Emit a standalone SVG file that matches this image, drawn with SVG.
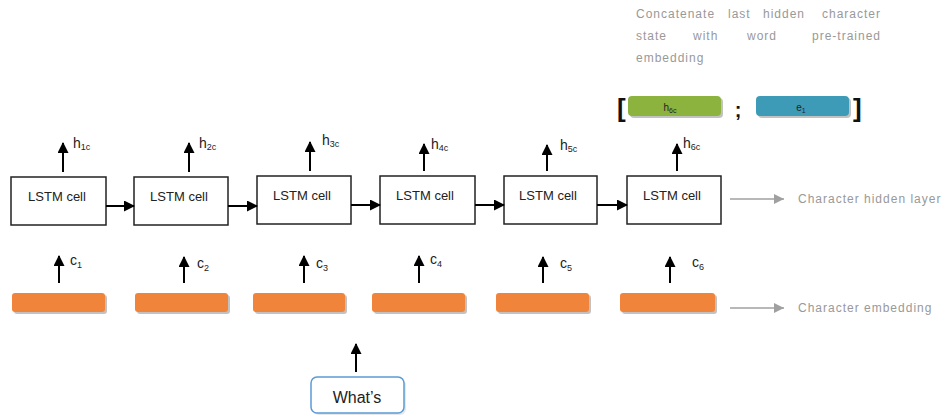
<svg xmlns="http://www.w3.org/2000/svg" width="950" height="417" viewBox="0 0 950 417">
<defs>
<marker id="ah" markerUnits="userSpaceOnUse" markerWidth="11" markerHeight="11" refX="10" refY="5.5" orient="auto"><path d="M0,0 L11,5.5 L0,11 z" fill="#000"/></marker>
<marker id="ag" markerUnits="userSpaceOnUse" markerWidth="10" markerHeight="10" refX="10" refY="5" orient="auto"><path d="M0,0 L10,5 L0,10 z" fill="#a0a0a0"/></marker>
<style>
.cell{fill:#fff;stroke:#222;stroke-width:1.5}
.ct{font-family:"Liberation Sans",Arial,sans-serif;font-size:13px;fill:#222;text-anchor:middle}
.lab{font-family:"Liberation Sans",Arial,sans-serif;font-size:14px;fill:#222}
.sub{font-size:9px}
.ar{stroke:#000;stroke-width:2;fill:none;marker-end:url(#ah)}
.ga{stroke:#a0a0a0;stroke-width:1.5;fill:none;marker-end:url(#ag)}
.gt{font-family:"Liberation Sans",Arial,sans-serif;font-size:12px;fill:#999;letter-spacing:1px}
.emb{fill:#f0843a}
.sh{fill:#9a9a9a;opacity:0.6}
</style>
</defs>
<rect width="950" height="417" fill="#fff"/>

<g id="note" class="gt">
<text x="636" y="18">Concatenate</text><text x="728" y="18">last</text><text x="763" y="18">hidden</text><text x="881" y="18" text-anchor="end">character</text>
<text x="636" y="40">state</text><text x="693" y="40">with</text><text x="747" y="40">word</text><text x="881" y="40" text-anchor="end">pre-trained</text>
<text x="636" y="62">embedding</text>
</g>

<g id="concat">
<text x="617" y="117" font-family="Liberation Sans,Arial,sans-serif" font-size="26" font-weight="bold" fill="#111">[</text>
<rect x="630" y="98" width="93" height="20" rx="4" class="sh"/>
<rect x="628" y="96" width="93" height="20" rx="4" fill="#8db33f"/>
<text x="670" y="111" font-family="Liberation Sans,Arial,sans-serif" font-size="10" fill="#222" text-anchor="middle">h<tspan font-size="7" dy="2">6c</tspan></text>
<text x="738" y="117" font-family="Liberation Sans,Arial,sans-serif" font-size="20" font-weight="bold" fill="#111" text-anchor="middle">;</text>
<rect x="758" y="98" width="93" height="20" rx="4" class="sh"/>
<rect x="756" y="96" width="93" height="20" rx="4" fill="#3d9bb8"/>
<text x="801" y="111" font-family="Liberation Sans,Arial,sans-serif" font-size="10" fill="#222" text-anchor="middle">e<tspan font-size="7" dy="2">1</tspan></text>
<text x="853" y="117" font-family="Liberation Sans,Arial,sans-serif" font-size="26" font-weight="bold" fill="#111">]</text>
</g>

<g id="cell1"><rect class="cell" x="11" y="177" width="95" height="48"/><text class="ct" x="57" y="201">LSTM cell</text></g>
<g id="cell2"><rect class="cell" x="134" y="177" width="94" height="48"/><text class="ct" x="179" y="201">LSTM cell</text></g>
<g id="cell3"><rect class="cell" x="257" y="176" width="94" height="48"/><text class="ct" x="302" y="200">LSTM cell</text></g>
<g id="cell4"><rect class="cell" x="380" y="176" width="95" height="48"/><text class="ct" x="425" y="200">LSTM cell</text></g>
<g id="cell5"><rect class="cell" x="504" y="176" width="93" height="48"/><text class="ct" x="548" y="200">LSTM cell</text></g>
<g id="cell6"><rect class="cell" x="627" y="176" width="94" height="48"/><text class="ct" x="672" y="200">LSTM cell</text></g>

<g id="hlabels" class="lab">
<text x="73" y="148">h<tspan class="sub" dy="2">1c</tspan></text>
<text x="199" y="148">h<tspan class="sub" dy="2">2c</tspan></text>
<text x="322" y="145">h<tspan class="sub" dy="2">3c</tspan></text>
<text x="431" y="149">h<tspan class="sub" dy="2">4c</tspan></text>
<text x="560" y="150">h<tspan class="sub" dy="2">5c</tspan></text>
<text x="683" y="148">h<tspan class="sub" dy="2">6c</tspan></text>
</g>

<g id="emb1"><rect class="sh" x="14" y="295" width="93" height="19" rx="3"/><rect class="emb" x="12" y="293" width="93" height="19" rx="3"/></g>
<g id="emb2"><rect class="sh" x="137" y="295" width="93" height="19" rx="3"/><rect class="emb" x="135" y="293" width="93" height="19" rx="3"/></g>
<g id="emb3"><rect class="sh" x="255" y="295" width="92" height="19" rx="3"/><rect class="emb" x="253" y="293" width="92" height="19" rx="3"/></g>
<g id="emb4"><rect class="sh" x="374" y="295" width="93" height="19" rx="3"/><rect class="emb" x="372" y="293" width="93" height="19" rx="3"/></g>
<g id="emb5"><rect class="sh" x="498" y="295" width="93" height="19" rx="3"/><rect class="emb" x="496" y="293" width="93" height="19" rx="3"/></g>
<g id="emb6"><rect class="sh" x="622" y="295" width="95" height="19" rx="3"/><rect class="emb" x="620" y="293" width="95" height="19" rx="3"/></g>

<g id="clabels" class="lab">
<text x="70" y="265">c<tspan class="sub" dy="3">1</tspan></text>
<text x="197" y="268">c<tspan class="sub" dy="3">2</tspan></text>
<text x="316" y="268">c<tspan class="sub" dy="3">3</tspan></text>
<text x="430" y="264">c<tspan class="sub" dy="3">4</tspan></text>
<text x="560" y="268">c<tspan class="sub" dy="3">5</tspan></text>
<text x="692" y="267">c<tspan class="sub" dy="3">6</tspan></text>
</g>

<g id="word">
<rect x="313" y="379" width="93" height="36" rx="6" fill="#d8d8d8" opacity="0.6"/>
<rect x="311" y="377" width="93" height="36" rx="6" fill="#fff" stroke="#5b9bd5" stroke-width="1.5"/>
<text x="357" y="403" font-family="Liberation Sans,Arial,sans-serif" font-size="16" fill="#222" text-anchor="middle">What’s</text>
</g>

<g id="legend" class="gt">
<text x="798" y="203">Character hidden layer</text>
<text x="798" y="312">Character embedding</text>
</g>

<g id="connectors">
<line class="ar" x1="106" y1="206" x2="134" y2="206"/>
<line class="ar" x1="228" y1="206" x2="257" y2="206"/>
<line class="ar" x1="351" y1="205" x2="380" y2="205"/>
<line class="ar" x1="475" y1="205" x2="504" y2="205"/>
<line class="ar" x1="597" y1="205" x2="627" y2="205"/>
<line class="ar" x1="63" y1="172" x2="63" y2="143"/>
<line class="ar" x1="189" y1="172" x2="189" y2="143"/>
<line class="ar" x1="310" y1="171" x2="310" y2="142"/>
<line class="ar" x1="424" y1="171" x2="424" y2="144"/>
<line class="ar" x1="547" y1="171" x2="547" y2="145"/>
<line class="ar" x1="677" y1="171" x2="677" y2="144"/>
<line class="ar" x1="59" y1="283" x2="59" y2="256"/>
<line class="ar" x1="184" y1="283" x2="184" y2="257"/>
<line class="ar" x1="304" y1="283" x2="304" y2="256"/>
<line class="ar" x1="419" y1="283" x2="419" y2="256"/>
<line class="ar" x1="543" y1="283" x2="543" y2="257"/>
<line class="ar" x1="670" y1="283" x2="670" y2="257"/>
<line class="ar" x1="356" y1="372" x2="356" y2="344"/>
<line class="ga" x1="730" y1="199" x2="784" y2="199"/>
<line class="ga" x1="730" y1="308" x2="784" y2="308"/>
</g>
</svg>
